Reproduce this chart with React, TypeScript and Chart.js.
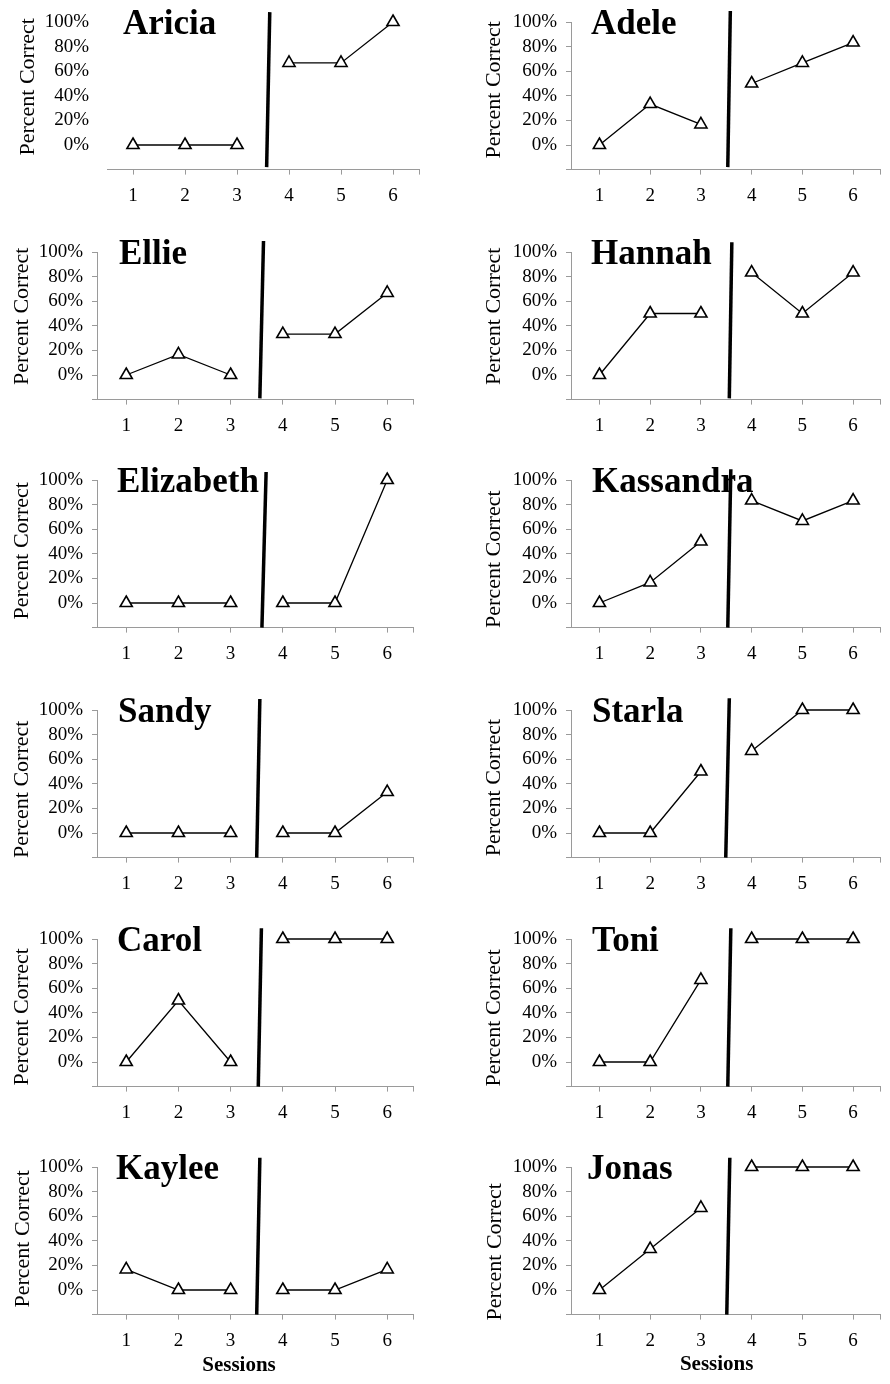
import React, { useEffect, useRef } from 'react';
import { Chart, registerables } from 'chart.js';

Chart.register(...registerables);

// ---------------- data ----------------
const PARTICIPANTS = ['Aricia', 'Adele', 'Ellie', 'Hannah', 'Elizabeth', 'Kassandra', 'Sandy', 'Starla', 'Carol', 'Toni', 'Kaylee', 'Jonas'];
const SESSIONS = [1, 2, 3, 4, 5, 6];
const BASELINE_SESSIONS = [1, 2, 3];
const TREATMENT_SESSIONS = [4, 5, 6];
const Y_TICKS = [0, 20, 40, 60, 80, 100];
const Y_LABEL = 'Percent Correct';
const X_LABEL = 'Sessions';

const BASELINE = [
  [0, 0, 0],
  [0, 33.3, 16.7],
  [0, 16.7, 0],
  [0, 50, 50],
  [0, 0, 0],
  [0, 16.7, 50],
  [0, 0, 0],
  [0, 0, 50],
  [0, 50, 0],
  [0, 0, 66.7],
  [16.7, 0, 0],
  [0, 33.3, 66.7],
];
const TREATMENT = [
  [66.7, 66.7, 100],
  [50, 66.7, 83.3],
  [33.3, 33.3, 66.7],
  [83.3, 50, 83.3],
  [0, 0, 100],
  [83.3, 66.7, 83.3],
  [0, 0, 33.3],
  [66.7, 100, 100],
  [100, 100, 100],
  [100, 100, 100],
  [0, 0, 16.7],
  [100, 100, 100],
];
// phase-change line end points (session units, percent)
const PHASE_TOP_X = [3.63, 3.58, 3.63, 3.61, 3.68, 3.59, 3.56, 3.56, 3.59, 3.59, 3.56, 3.57];
const PHASE_BOTTOM_X = [3.57, 3.53, 3.56, 3.56, 3.6, 3.53, 3.5, 3.49, 3.53, 3.53, 3.5, 3.51];
const PHASE_TOP_Y = [108, 109, 109, 108, 106.5, 108.7, 109, 109.5, 108.7, 108.7, 107.5, 107.5];
const PHASE_BOTTOM_Y = [-18, -18, -19, -19, -20, -20, -20, -20, -20, -20, -20, -20];

// ---------------- layout ----------------
const COL_X = [0, 445];
const ROW_TOP = [0, 230, 458, 688, 917, 1145];
const ROW_H = [229, 228, 230, 229, 228, 239];
const PANEL_W = 445;
const AREA_TOP = 22;
const AREA_BOTTOM = 169.6;
const X_AXIS_H = 35;
const AREA_LEFT = [107, 126, 97, 126, 97, 126, 97, 126, 97, 126, 97, 126];
const AREA_RIGHT = [419, 442.7, 413.3, 442.7, 413.3, 442.7, 413.3, 442.7, 413.3, 442.7, 413.3, 442.7];
const X_MIN = [0.5, 0.44, 0.44, 0.44, 0.44, 0.44, 0.44, 0.44, 0.44, 0.44, 0.44, 0.44];
const X_MAX = [6.5, 6.53, 6.5, 6.53, 6.5, 6.53, 6.5, 6.53, 6.5, 6.53, 6.5, 6.53];
const TITLE_DX = [16, 20, 22, 20, 20, 21, 21, 21, 20, 21, 19, 16];
const YLABEL_X = [28, 49, 22, 49, 22, 49, 22, 49, 22, 49, 23, 50];
const YLABEL_DY = [-9, -6, -9.5, -9.5, -3, 5.4, 5.5, 3.8, 4, 5, -2, 11];
const SHOW_Y_BORDER = [false, true, true, true, true, true, true, true, true, true, true, true];
const SESSIONS_POS: Record<number, [number, number]> = { 10: [239, 221], 11: [271.7, 219.5] };

const SERIF = "'Liberation Serif', 'Times New Roman', serif";
const AXIS_GRAY = '#9a9a9a';

const textPlugin = {
  id: 'panelText',
  afterDraw(chart: any) {
    const idx = chart.options.plugins.panelText.idx;
    const ctx = chart.ctx;
    const a = chart.chartArea;
    ctx.save();
    ctx.fillStyle = '#000';
    // title
    ctx.font = `bold 35px ${SERIF}`;
    ctx.textAlign = 'left';
    ctx.textBaseline = 'alphabetic';
    ctx.fillText(PARTICIPANTS[idx], a.left + TITLE_DX[idx], a.top + 11.5);
    // y label
    ctx.font = `22px ${SERIF}`;
    ctx.translate(YLABEL_X[idx], (a.top + a.bottom) / 2 + YLABEL_DY[idx]);
    ctx.rotate(-Math.PI / 2);
    ctx.textAlign = 'center';
    ctx.textBaseline = 'middle';
    ctx.fillText(Y_LABEL, 0, 0);
    ctx.restore();
    const sp = SESSIONS_POS[idx];
    if (sp) {
      ctx.save();
      ctx.fillStyle = '#000';
      ctx.font = `bold 21px ${SERIF}`;
      ctx.textAlign = 'center';
      ctx.textBaseline = 'middle';
      ctx.fillText(X_LABEL, sp[0], sp[1]);
      ctx.restore();
    }
  },
};

function Panel({ idx }: { idx: number }) {
  const ref = useRef<HTMLCanvasElement>(null);
  const row = Math.floor(idx / 2);
  const col = idx % 2;
  const h = ROW_H[row];

  useEffect(() => {
    const canvas = ref.current;
    if (!canvas) return;
    const showY = SHOW_Y_BORDER[idx];
    const pointStyle = {
      borderColor: '#000',
      borderWidth: 1.3,
      pointStyle: 'triangle',
      pointRadius: 7,
      pointBackgroundColor: '#fff',
      pointBorderColor: '#000',
      pointBorderWidth: 1.6,
      tension: 0,
      clip: false,
      fill: false,
    };
    const chart = new Chart(canvas, {
      type: 'line',
      data: {
        datasets: [
          {
            label: 'Baseline',
            data: BASELINE[idx].map((y, k) => ({ x: BASELINE_SESSIONS[k], y })),
            ...pointStyle,
          },
          {
            label: 'Treatment',
            data: TREATMENT[idx].map((y, k) => ({ x: TREATMENT_SESSIONS[k], y })),
            ...pointStyle,
          },
          {
            label: 'Phase change',
            data: [
              { x: PHASE_TOP_X[idx], y: PHASE_TOP_Y[idx] },
              { x: PHASE_BOTTOM_X[idx], y: PHASE_BOTTOM_Y[idx] },
            ],
            borderColor: '#000',
            borderWidth: 3.5,
            pointRadius: 0,
            clip: false,
            fill: false,
          },
        ] as any,
      },
      options: {
        responsive: false,
        animation: false,
        devicePixelRatio: 1,
        layout: {
          padding: {
            top: AREA_TOP,
            left: 0,
            right: PANEL_W - AREA_RIGHT[idx],
            bottom: h - AREA_BOTTOM - X_AXIS_H,
          },
        },
        plugins: {
          legend: { display: false },
          tooltip: { enabled: false },
          panelText: { idx },
        } as any,
        scales: {
          x: {
            type: 'linear',
            min: X_MIN[idx],
            max: X_MAX[idx],
            afterBuildTicks: (scale: any) => {
              scale.ticks = [...SESSIONS, X_MAX[idx]].map((v) => ({ value: v }));
            },
            afterFit: (scale: any) => {
              scale.height = X_AXIS_H;
            },
            grid: { drawOnChartArea: false, drawTicks: true, tickLength: 5, color: AXIS_GRAY, lineWidth: 1 },
            border: { display: true, color: AXIS_GRAY, width: 1 },
            ticks: {
              autoSkip: false,
              maxRotation: 0,
              padding: 10,
              color: '#000',
              font: { family: SERIF, size: 19 },
              callback: (v: any) => (Number.isInteger(v) ? String(v) : ''),
            },
          },
          y: {
            type: 'linear',
            min: -20,
            max: 100,
            afterBuildTicks: (scale: any) => {
              scale.ticks = [-20, ...Y_TICKS].map((v) => ({ value: v }));
            },
            afterFit: (scale: any) => {
              scale.width = AREA_LEFT[idx];
            },
            grid: {
              drawOnChartArea: false,
              drawTicks: true,
              tickLength: showY ? 5 : 9,
              color: showY ? AXIS_GRAY : 'rgba(0,0,0,0)',
              lineWidth: 1,
            },
            border: { display: showY, color: AXIS_GRAY, width: 1 },
            ticks: {
              autoSkip: false,
              padding: 9,
              color: '#000',
              font: { family: SERIF, size: 19 },
              callback: (v: any) => (v < 0 ? '' : `${v}%`),
            },
          },
        },
      } as any,
      plugins: [textPlugin],
    });
    return () => chart.destroy();
  }, [idx, h]);

  return (
    <canvas
      ref={ref}
      width={PANEL_W}
      height={h}
      style={{ position: 'absolute', left: COL_X[col], top: ROW_TOP[row], width: PANEL_W, height: h }}
    />
  );
}

export default function App() {
  return (
    <div style={{ position: 'absolute', left: 0, top: 0, width: 890, height: 1384, background: '#fff', overflow: 'hidden' }}>
      {PARTICIPANTS.map((_, i) => (
        <Panel key={i} idx={i} />
      ))}
    </div>
  );
}
